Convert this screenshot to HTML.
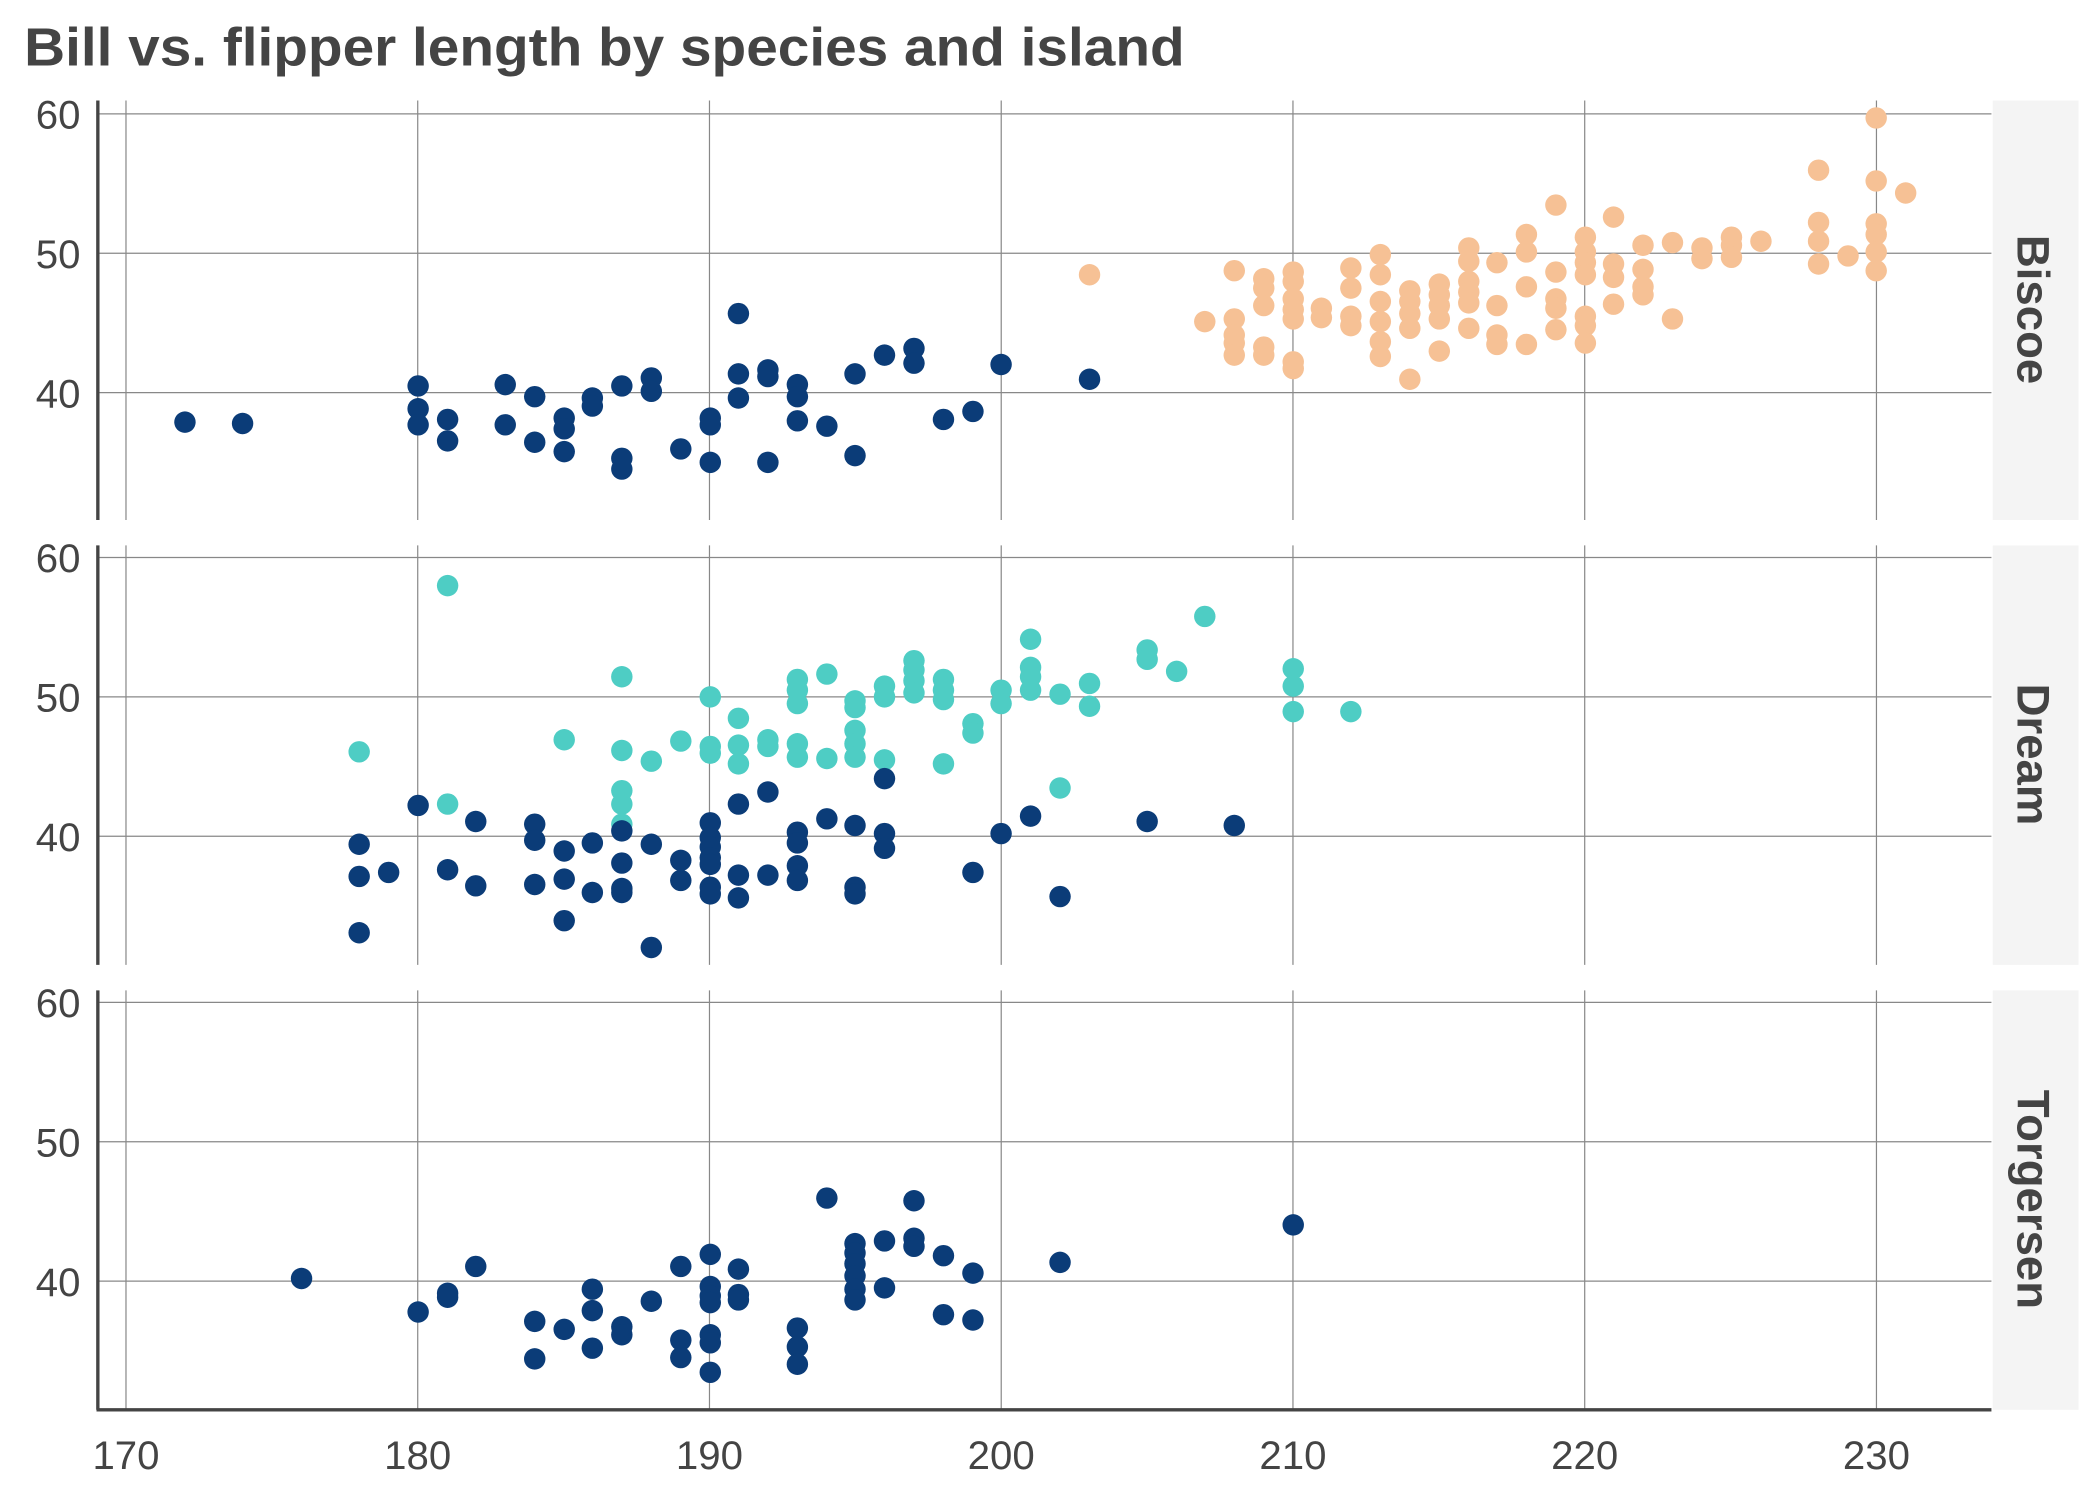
<!DOCTYPE html>
<html><head><meta charset="utf-8"><style>
html,body{margin:0;padding:0;background:#fff;}
svg{display:block;}
text{font-family:"Liberation Sans",sans-serif;fill:#444;}
</style></head><body>
<svg id="s" width="2100" height="1500" viewBox="0 0 1567 1119.3" xmlns="http://www.w3.org/2000/svg">
<text x="18" y="49" font-size="40" font-weight="bold" textLength="866" lengthAdjust="spacingAndGlyphs">Bill vs. flipper length by species and island</text>
<g id="g"></g>
</svg>
<script>
var g=document.getElementById('g'),h='';
var tops=[75,407,739],offs=[0,331,663],names=['Biscoe','Dream','Torgersen'];
for(var p=0;p<3;p++){
 var t=tops[p],b=t+313,o=offs[p];
 h+='<rect x="1487" y="'+t+'" width="64" height="313" fill="#f4f4f4"/>';
 var cx=1517,cy=t+156;
 h+='<text x="'+cx+'" y="'+cy+'" font-size="34" font-weight="bold" text-anchor="middle" dominant-baseline="central" transform="rotate(90 '+cx+' '+cy+')">'+names[p]+'</text>';
 for(var v=170;v<=230;v+=10){var x=94+(v-170)*21.77;h+='<line x1="'+x+'" y1="'+t+'" x2="'+x+'" y2="'+b+'" stroke="#888" stroke-width="0.9"/>';}
 [60,50,40].forEach(function(v){var y=85+o+(60-v)*10.4;h+='<line x1="73" y1="'+y+'" x2="1486" y2="'+y+'" stroke="#888" stroke-width="0.9"/>';
  h+='<text x="60" y="'+(y+11)+'" font-size="30" text-anchor="end">'+v+'</text>';});
 h+='<line x1="73" y1="'+t+'" x2="73" y2="'+b+'" stroke="#444" stroke-width="2.5"/>';
}
h+='<line x1="72" y1="1052" x2="1486" y2="1052" stroke="#444" stroke-width="2.5"/>';
for(var v=170;v<=230;v+=10){var x=94+(v-170)*21.77;h+='<text x="'+x+'" y="1096" font-size="30" text-anchor="middle">'+v+'</text>';}
function pts(a,c){a.forEach(function(q){h+='<circle cx="'+q[0]+'" cy="'+q[1]+'" r="8" fill="'+c+'"/>';});}
var N='#0b3c78',P='#f6c195',T='#4ecdc4';
pts([[813,205],[899,240],[921,238],[921,250],[921,256],[921,265],[921,202],[943,208],[943,215],[943,228],[943,259],[943,265],[965,203],[965,210],[965,223],[965,231],[965,238],[965,270],[965,275],[986,230],[986,237],[1008,200],[1008,215],[1008,236],[1008,243],[1030,190],[1030,205],[1030,225],[1030,240],[1030,255],[1030,266],[1052,217],[1052,225],[1052,234],[1052,245],[1052,283],[1074,212],[1074,220],[1074,228],[1074,238],[1074,262],[1096,185],[1096,195],[1096,210],[1096,218],[1096,226],[1096,245],[1117,196],[1117,228],[1117,250],[1117,257],[1139,175],[1139,188],[1139,214],[1139,257],[1161,153],[1161,203],[1161,223],[1161,230],[1161,246],[1183,177],[1183,188],[1183,196],[1183,205],[1183,236],[1183,243],[1183,256],[1204,162],[1204,197],[1204,207],[1204,227],[1226,183],[1226,201],[1226,214],[1226,220],[1248,181],[1248,238],[1270,185],[1270,193],[1292,177],[1292,183],[1292,192],[1314,180],[1357,127],[1357,166],[1357,180],[1357,197],[1379,191],[1400,88],[1400,135],[1400,167],[1400,175],[1400,188],[1400,202],[1422,144]],P);
pts([[138,315],[181,316],[312,288],[312,305],[312,317],[334,313],[334,329],[377,287],[377,317],[399,296],[399,330],[421,312],[421,320],[421,337],[442,297],[442,303],[464,288],[464,342],[464,350],[486,282],[486,292],[508,335],[530,312],[530,317],[530,345],[551,234],[551,279],[551,297],[573,276],[573,281],[573,345],[595,287],[595,296],[595,314],[617,318],[638,279],[638,340],[660,265],[682,260],[682,271],[704,313],[726,307],[747,272],[813,283]],N);
pts([[268,561],[334,437],[334,600],[421,552],[464,505],[464,560],[464,590],[464,600],[464,615],[486,568],[508,553],[530,520],[530,557],[530,562],[551,536],[551,556],[551,570],[573,552],[573,557],[595,507],[595,515],[595,525],[595,555],[595,565],[617,503],[617,566],[638,523],[638,528],[638,545],[638,555],[638,565],[660,512],[660,520],[660,567],[682,493],[682,500],[682,508],[682,517],[704,507],[704,515],[704,522],[704,570],[726,540],[726,547],[747,515],[747,525],[769,477],[769,498],[769,505],[769,515],[791,518],[791,588],[813,510],[813,527],[856,485],[856,492],[878,501],[899,460],[965,499],[965,512],[965,531],[1008,531]],T);
pts([[268,630],[268,654],[268,696],[290,651],[312,601],[334,649],[355,613],[355,661],[399,615],[399,627],[399,660],[421,635],[421,656],[421,687],[442,629],[442,666],[464,620],[464,644],[464,663],[464,666],[486,630],[486,707],[508,642],[508,657],[530,614],[530,625],[530,632],[530,640],[530,645],[530,662],[530,667],[551,600],[551,653],[551,670],[573,591],[573,653],[595,621],[595,629],[595,646],[595,657],[617,611],[638,616],[638,662],[638,667],[660,581],[660,622],[660,633],[726,651],[747,622],[769,609],[791,669],[856,613],[921,616]],N);
pts([[225,954],[312,979],[334,965],[334,968],[355,945],[399,986],[399,1014],[421,992],[442,962],[442,978],[442,1006],[464,990],[464,996],[486,971],[508,945],[508,1000],[508,1013],[530,936],[530,960],[530,967],[530,972],[530,996],[530,1002],[530,1024],[551,947],[551,966],[551,970],[595,991],[595,1005],[595,1018],[617,894],[638,928],[638,935],[638,943],[638,952],[638,962],[638,970],[660,926],[660,961],[682,896],[682,924],[682,930],[704,937],[704,981],[726,950],[726,985],[791,942],[965,914]],N);
g.innerHTML=h;
</script>
</body></html>
